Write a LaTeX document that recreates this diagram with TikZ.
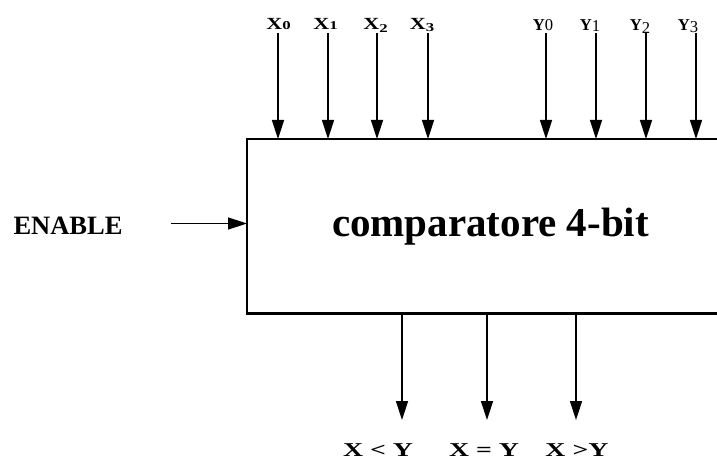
\documentclass[tikz,border=0pt]{standalone}
\usepackage{fontspec}
\setmainfont{Liberation Serif}
\usetikzlibrary{arrows.meta}
\tikzset{
  arr/.style={line width=1.5pt, -{Triangle[width=12pt,length=19pt]}},
  boxline/.style={line width=2.2pt},
  lbl/.style={inner sep=0pt, anchor=base},
  xfont/.style={font=\bfseries\fontsize{17}{17}\selectfont},
  yfont/.style={font=\bfseries\fontsize{16.6}{16.6}\selectfont},
  ofont/.style={font=\bfseries\fontsize{19.6}{19.6}\selectfont},
}
\newcommand{\xl}[2]{\scalebox{1.3}[1]{X}\raisebox{#2pt}{\scalebox{1.4}[1]{\fontsize{12}{12}\selectfont #1}}}
\newcommand{\yl}[2]{Y\raisebox{#2pt}{\mdseries #1}}
\newcommand{\ol}[1]{\scalebox{1.42}[1]{#1}}
\begin{document}
\begin{tikzpicture}[x=1pt,y=-1pt]
\useasboundingbox[fill=white] (0,0) rectangle (717,462);
% box
\node[minimum width=470pt, minimum height=174pt, anchor=north west, inner sep=0pt] (box) at (247,139) {};
\draw[boxline] (box.north east) -- (box.north west) -- (box.south west) -- (box.south east);
\node[lbl, font=\bfseries\fontsize{41}{41}\selectfont] (title) at (490.5,237) {comparatore 4-bit};
% input labels
\node[lbl, xfont] (lx0) at (278.5,30) {\xl{0}{0}};
\node[lbl, xfont] (lx1) at (325.5,30) {\xl{1}{0}};
\node[lbl, xfont] (lx2) at (375.5,30) {\xl{2}{-3}};
\node[lbl, xfont] (lx3) at (422,30) {\xl{3}{-2}};
\node[lbl, yfont] (ly0) at (543,31) {\yl{0}{0}};
\node[lbl, yfont] (ly1) at (590,31) {\yl{1}{-1}};
\node[lbl, yfont] (ly2) at (640,31) {\yl{2}{-3}};
\node[lbl, yfont] (ly3) at (688,31) {\yl{3}{-2}};
% input arrow tops
\coordinate (ax0) at (278,33);
\coordinate (ax1) at (328,33);
\coordinate (ax2) at (377,33);
\coordinate (ax3) at (428,33);
\coordinate (ay0) at (546,33);
\coordinate (ay1) at (596,33);
\coordinate (ay2) at (646,33);
\coordinate (ay3) at (696,33);
\foreach \c in {ax0,ax1,ax2,ax3,ay0,ay1,ay2,ay3}{
  \draw[arr] (\c) -- (\c |- box.north);
}
% enable
\node[lbl, font=\bfseries\fontsize{26.5}{26.5}\selectfont] (en) at (68,235) {ENABLE};
\coordinate (enS) at (171,223.5);
\draw[arr] (enS) -- (enS -| box.west);
% outputs
\coordinate (o1) at (402,420);
\coordinate (o2) at (487,420);
\coordinate (o3) at (576,420);
\foreach \c in {o1,o2,o3}{
  \draw[arr] (\c |- box.south) -- (\c);
}
\node[lbl, ofont] (l1) at (378,456) {\ol{X < Y}};
\node[lbl, ofont] (l2) at (484,456) {\ol{X = Y}};
\node[lbl, ofont] (l3) at (577,456) {\ol{X >Y}};
\end{tikzpicture}
\end{document}
